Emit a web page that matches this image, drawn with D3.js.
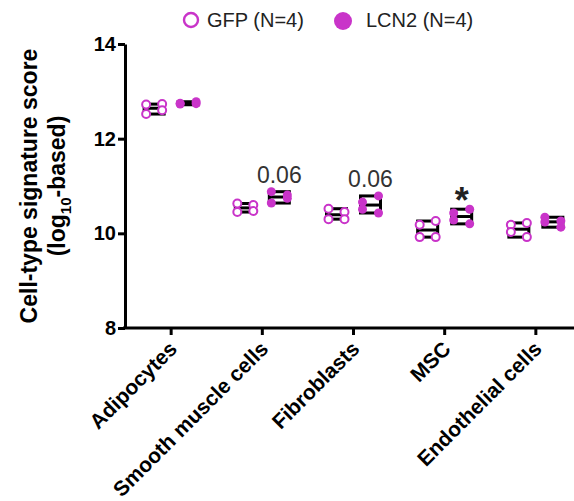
<!DOCTYPE html>
<html>
<head>
<meta charset="utf-8">
<script src="https://cdn.jsdelivr.net/npm/d3@7"></script>
<style>
  body { margin: 0; background: #fff; }
  text { font-family: "Liberation Sans", Arial, sans-serif; }
</style>
</head>
<body>
<svg id="chart" width="574" height="501"></svg>
<script>
const cellTypes = ["Adipocytes", "Smooth muscle cells", "Fibroblasts", "MSC", "Endothelial cells"];
const gfpValues = [
  [12.72, 12.73, 12.52, 12.6],
  [10.63, 10.6, 10.45, 10.47],
  [10.52, 10.45, 10.3, 10.3],
  [10.18, 10.26, 9.92, 9.92],
  [10.18, 10.22, 10.03, 9.92]
];
const lcn2Values = [
  [12.75, 12.78, 12.73, 12.74],
  [10.64, 10.81, 10.88, 10.74],
  [10.66, 10.79, 10.51, 10.43],
  [10.43, 10.51, 10.28, 10.2],
  [10.34, 10.26, 10.24, 10.13]
];
const annotations = ["", "0.06", "0.06", "*", ""];
const yTicks = [8, 10, 12, 14];

const color = "#c934c9";
const svg = d3.select("#chart");

const xScale = d3.scaleBand(cellTypes, [121, 586]).paddingOuter(0.05);
const yScale = d3.scaleLinear([8, 14], [328, 44]);
const groupOffset = 17;

// axes
const yAxis = d3.axisLeft(yScale).tickValues(yTicks).tickFormat(d3.format("d")).tickSize(7).tickSizeOuter(0);
const gy = svg.append("g")
    .attr("transform", "translate(125,0)")
    .call(yAxis);
gy.select(".domain").attr("stroke-width", 3);
gy.selectAll(".tick line").attr("stroke-width", 3);
gy.selectAll(".tick text")
    .attr("font-size", 20).attr("font-weight", "bold").attr("fill", "#000").attr("x", -9);

const xAxis = d3.axisBottom(xScale).tickSize(7).tickSizeOuter(0);
const gx = svg.append("g")
    .attr("transform", "translate(0,328)")
    .call(xAxis);
gx.select(".domain").attr("stroke-width", 3).attr("d", "M123,0H586");
gx.selectAll(".tick line").attr("stroke-width", 3);
gx.selectAll(".tick text")
    .attr("font-size", 21).attr("font-weight", "bold").attr("fill", "#000")
    .attr("text-anchor", "end")
    .attr("transform", "translate(2,17) rotate(-45)")
    .attr("x", 0).attr("y", 0).attr("dy", "0.35em");

// y title
const yTitle = svg.append("text")
    .attr("transform", "translate(37,186) rotate(-90)")
    .attr("text-anchor", "middle")
    .attr("font-size", 23).attr("font-weight", "bold");
yTitle.append("tspan").attr("x", 0).attr("dy", 0).text("Cell-type signature score");
const line2 = yTitle.append("tspan").attr("x", 0).attr("dy", 28);
line2.append("tspan").text("(log");
line2.append("tspan").attr("font-size", 15).attr("dy", 6).text("10");
line2.append("tspan").attr("dy", -6).text("-based)");

// floating bars (min to max, line at mean) + points
function drawGroup(values, i, dx, filled) {
  const cx = xScale(cellTypes[i]) + xScale.bandwidth() / 2 + dx;
  const lo = d3.min(values);
  const hi = d3.max(values);
  const mean = d3.mean(values);
  const bw = 20;
  svg.append("rect")
      .attr("x", cx - bw / 2).attr("width", bw)
      .attr("y", yScale(hi)).attr("height", Math.max(yScale(lo) - yScale(hi), 3))
      .attr("fill", "#fff").attr("stroke", "#000").attr("stroke-width", 3);
  svg.append("line")
      .attr("x1", cx - bw / 2).attr("x2", cx + bw / 2)
      .attr("y1", yScale(mean)).attr("y2", yScale(mean))
      .attr("stroke", "#000").attr("stroke-width", 3);
  svg.selectAll(null)
      .data(values)
      .enter()
      .append("circle")
      .attr("cx", (d, j) => cx + (j % 2 === 0 ? -8 : 8))
      .attr("cy", d => yScale(d))
      .attr("r", filled ? 4.5 : 4)
      .attr("fill", filled ? color : "#fff")
      .attr("stroke", color)
      .attr("stroke-width", filled ? 0 : 2);
}

cellTypes.forEach((c, i) => {
  drawGroup(gfpValues[i], i, -groupOffset, false);
  drawGroup(lcn2Values[i], i, groupOffset, true);
  if (annotations[i]) {
    const top = d3.max(lcn2Values[i]);
    const isStar = annotations[i] === "*";
    svg.append("text")
        .attr("x", xScale(c) + xScale.bandwidth() / 2 + groupOffset)
        .attr("y", yScale(top) + (isStar ? 4 : -9))
        .attr("text-anchor", "middle")
        .attr("font-size", isStar ? 36 : 23)
        .attr("font-weight", isStar ? "bold" : "normal")
        .attr("fill", isStar ? "#222" : "#333")
        .text(annotations[i]);
  }
});

// legend
const legend = svg.append("g");
legend.append("circle").attr("cx", 191).attr("cy", 20).attr("r", 7)
    .attr("fill", "#fff").attr("stroke", color).attr("stroke-width", 2.4);
legend.append("text").attr("x", 207).attr("y", 27).attr("font-size", 20).attr("fill", "#222").text("GFP (N=4)");
legend.append("circle").attr("cx", 343).attr("cy", 21).attr("r", 9).attr("fill", color);
legend.append("text").attr("x", 366).attr("y", 27).attr("font-size", 20).attr("fill", "#222").text("LCN2 (N=4)");
</script>
</body>
</html>
